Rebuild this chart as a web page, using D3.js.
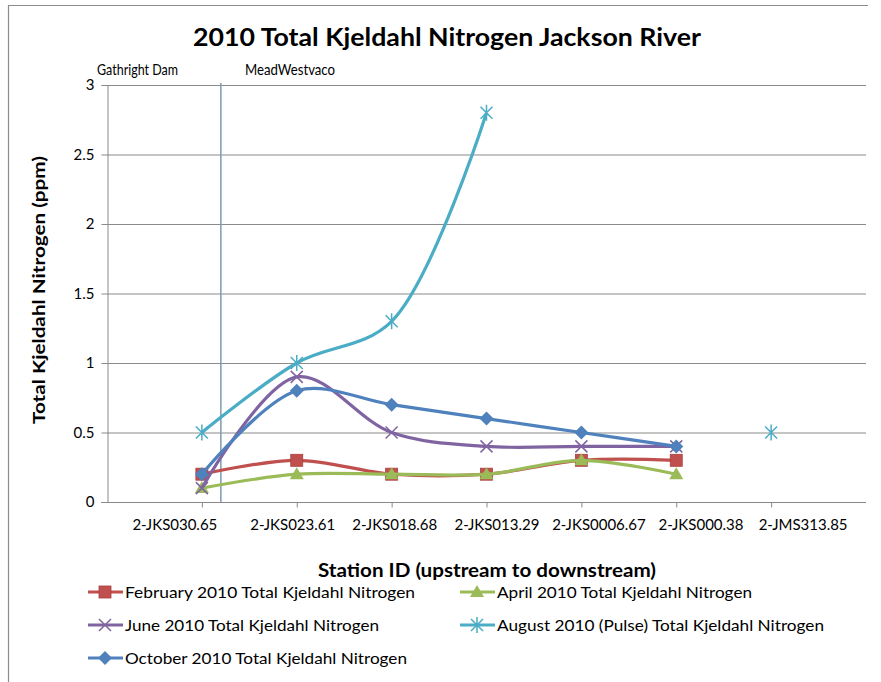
<!DOCTYPE html>
<html><head><meta charset="utf-8">
<script src="https://cdn.jsdelivr.net/npm/d3@7"></script>
<style>body{margin:0;background:#fff}svg{display:block}text{font-family:Lato,"Open Sans",sans-serif;fill:#000}</style>
</head><body><svg id="c" width="881" height="682"></svg>
<script>
const categories = ["2-JKS030.65","2-JKS023.61","2-JKS018.68","2-JKS013.29","2-JKS0006.67","2-JKS000.38","2-JMS313.85"];
const febValues = [0.2,0.3,0.2,0.2,0.3,0.3,null];
const aprValues = [0.1,0.2,0.2,0.2,0.3,0.2,null];
const junValues = [0.1,0.9,0.5,0.4,0.4,0.4,null];
const augValues = [0.5,1.0,1.3,2.8,null,null,0.5];
const octValues = [0.2,0.8,0.7,0.6,0.5,0.4,null];
const yTicks = [0,0.5,1,1.5,2,2.5,3];
const seriesNames = ["February 2010 Total Kjeldahl Nitrogen","April 2010 Total Kjeldahl Nitrogen","June 2010 Total Kjeldahl Nitrogen","August 2010 (Pulse) Total Kjeldahl Nitrogen","October 2010 Total Kjeldahl Nitrogen"];
const seriesColors = ["#C0504D","#9BBB59","#8064A2","#4BACC6","#4F81BD"];
const seriesMarkers = ["square","triangle","x","star","diamond"];
const siteLabels = ["Gathright Dam","MeadWestvaco"];

const series = [febValues,aprValues,junValues,augValues,octValues].map((v,i)=>({name:seriesNames[i],values:v,color:seriesColors[i],marker:seriesMarkers[i]}));

const svg = d3.select("#c");
const L=107,R=866,T=85,B=502;
const x = d3.scalePoint().domain(categories).range([L,R]).padding(1);
const y = d3.scaleLinear().domain([0,3]).range([B,T]);

// outer frame
svg.append("path").attr("d","M8.5,682V5.5H868").attr("fill","none").attr("stroke","#8c8c8c").attr("stroke-width",1.2);

// title
svg.append("text").attr("x",447).attr("y",46).attr("text-anchor","middle").attr("font-size",24).attr("font-weight","bold")
  .attr("textLength",508).attr("lengthAdjust","spacingAndGlyphs").text("2010 Total Kjeldahl Nitrogen Jackson River");

// gridlines
svg.append("g").selectAll("line").data(yTicks.filter(d=>d>0)).join("line")
  .attr("x1",L).attr("x2",R).attr("y1",d=>y(d)+0.5).attr("y2",d=>y(d)+0.5).attr("stroke","#8a8a8a").attr("stroke-width",1);

// y axis
const ya = svg.append("g").attr("transform",`translate(${L+0.5},0)`).call(d3.axisLeft(y).tickValues(yTicks).tickSize(6).tickPadding(7).tickFormat(d=>String(d)));
ya.select(".domain").attr("stroke","#8a8a8a");
ya.selectAll(".tick line").attr("stroke","#8a8a8a");
ya.selectAll(".tick text").attr("font-size",15).attr("fill","#000").attr("font-family","Lato,sans-serif");

// x axis
const xa = svg.append("g").attr("transform",`translate(0,${B+0.5})`).call(d3.axisBottom(x).tickSize(5).tickFormat(""));
xa.select(".domain").attr("d",`M${L-6},0H${R}`).attr("stroke","#8a8a8a");
xa.selectAll(".tick line").attr("stroke","#8a8a8a");
// category labels
const step = x.step();
const lab = d3.scaleLinear().domain([1,6]).range([x(categories[1])-4, x(categories[6])+32]);
svg.append("g").selectAll("text").data(categories).join("text")
  .attr("x",(d,i)=> i===0 ? x(d)-27 : lab(i)).attr("y",530).attr("text-anchor","middle").attr("font-size",15).text(d=>d);

// site divider line
const divX = x(categories[0]) + step*0.2;
svg.append("line").attr("x1",divX).attr("x2",divX).attr("y1",T-2).attr("y2",B).attr("stroke","#7d9bb5").attr("stroke-width",1.5);
svg.append("text").attr("x",97).attr("y",75).attr("font-size",15).attr("textLength",81).attr("lengthAdjust","spacingAndGlyphs").text(siteLabels[0]);
svg.append("text").attr("x",245).attr("y",75).attr("font-size",15).attr("textLength",90).attr("lengthAdjust","spacingAndGlyphs").text(siteLabels[1]);

// axis titles
svg.append("text").attr("transform","translate(45,290) rotate(-90)").attr("text-anchor","middle").attr("font-size",17).attr("font-weight","bold")
  .attr("textLength",268).attr("lengthAdjust","spacingAndGlyphs").text("Total Kjeldahl Nitrogen (ppm)");
svg.append("text").attr("x",487).attr("y",577).attr("text-anchor","middle").attr("font-size",18).attr("font-weight","bold")
  .attr("textLength",338).attr("lengthAdjust","spacingAndGlyphs").text("Station ID (upstream to downstream)");

// markers
function drawMarker(g, type, color, cx, cy){
  if(type==="square") g.append("rect").attr("x",cx-6).attr("y",cy-6).attr("width",12).attr("height",12).attr("fill",color).attr("stroke","#a8403d").attr("stroke-width",0.8);
  else if(type==="triangle") g.append("path").attr("d",`M${cx},${cy-7}L${cx+7},${cy+5}L${cx-7},${cy+5}Z`).attr("fill",color);
  else if(type==="diamond") g.append("path").attr("d",`M${cx},${cy-7}L${cx+7},${cy}L${cx},${cy+7}L${cx-7},${cy}Z`).attr("fill",color);
  else if(type==="x") g.append("path").attr("d",`M${cx-6},${cy-6}L${cx+6},${cy+6}M${cx-6},${cy+6}L${cx+6},${cy-6}`).attr("stroke",color).attr("stroke-width",1.5).attr("fill","none");
  else if(type==="star") g.append("path").attr("d",`M${cx-6},${cy-6}L${cx+6},${cy+6}M${cx-6},${cy+6}L${cx+6},${cy-6}M${cx},${cy-8}V${cy+8}`).attr("stroke",color).attr("stroke-width",1.5).attr("fill","none");
}

const line = d3.line().defined(d=>d.v!=null).x(d=>x(d.c)).y(d=>y(d.v)).curve(d3.curveCatmullRom.alpha(0.5));
const plot = svg.append("g");
series.forEach(s=>{
  const pts = s.values.map((v,i)=>({c:categories[i],v}));
  plot.append("path").attr("d",line(pts)).attr("fill","none").attr("stroke",s.color).attr("stroke-width",3.2).attr("stroke-linejoin","round");
  const mg = plot.append("g");
  pts.filter(p=>p.v!=null).forEach(p=>drawMarker(mg,s.marker,s.color,x(p.c),y(p.v)));
});

// legend
const legPos = [[88,592,290],[460,592,255],[88,625,254],[460,625,327],[88,658,282]];
series.forEach((s,i)=>{
  const [lx,ly,tl] = legPos[i];
  const g = svg.append("g");
  g.append("line").attr("x1",lx).attr("x2",lx+35).attr("y1",ly).attr("y2",ly).attr("stroke",s.color).attr("stroke-width",3.2);
  drawMarker(g,s.marker,s.color,lx+17,ly);
  g.append("text").attr("x",lx+37).attr("y",ly+6).attr("font-size",16).attr("textLength",tl).attr("lengthAdjust","spacingAndGlyphs").text(s.name);
});
</script></body></html>
